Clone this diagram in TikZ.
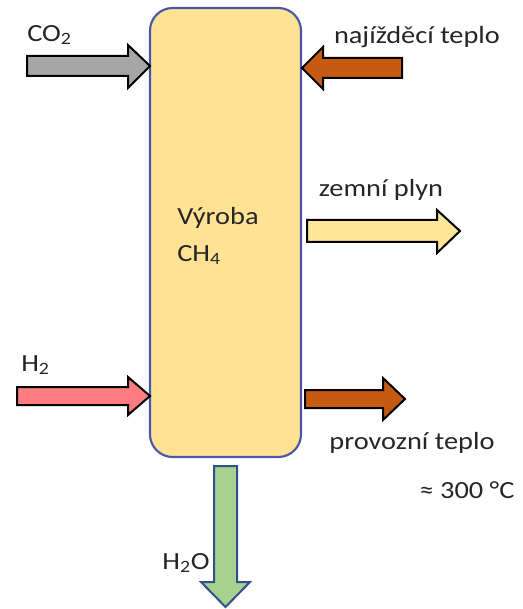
\documentclass[tikz,border=0pt]{standalone}
\usepackage{fontspec}
\setmainfont{Carlito}[FakeStretch=1.15]
\usetikzlibrary{positioning}
\definecolor{BoxFill}{HTML}{FFE294}
\definecolor{BoxLine}{HTML}{4A56A8}
\definecolor{GasGray}{HTML}{A6A6A6}
\definecolor{HeatBrown}{HTML}{C55A11}
\definecolor{GasYellow}{HTML}{FFE699}
\definecolor{HydroRed}{HTML}{FF7C80}
\definecolor{WaterGreen}{HTML}{A9D18E}
\definecolor{WaterLine}{HTML}{2F528F}
\definecolor{TextGray}{HTML}{262626}

\begin{document}
\begin{tikzpicture}[x=0.75pt,y=-0.75pt,
    every node/.style={font=\fontsize{18.5}{21}\selectfont,text=TextGray,inner sep=0pt},
    flow/.style={draw=black,line width=1.5pt,line join=miter},
    reactorbox/.style={draw=BoxLine,fill=BoxFill,line width=1.6pt,rounded corners=17pt,
      minimum width=113.25pt,minimum height=336.75pt}]
  \useasboundingbox (0,0) rectangle (522,609);

  % reactor
  \node[reactorbox] (reactor) at (225.5,232.5) {};
  \node[anchor=west] (vyroba) at (177,218) {Výroba};
  \node[anchor=west] (methan) at (177,255) {CH\textsubscript{4}};

  % inputs on the left
  \draw[flow,fill=GasGray] (27,56) -- (128,56) -- (128,45) -- (150,66)
    -- (128,88) -- (128,76) -- (27,76) -- cycle;
  \node[anchor=west] (co2) at (27,35) {CO\textsubscript{2}};

  \draw[flow,fill=HydroRed] (17,387) -- (128,387) -- (128,377) -- (150,396)
    -- (128,415) -- (128,405) -- (17,405) -- cycle;
  \node[anchor=west] (h2) at (21,365) {H\textsubscript{2}};

  % heat in, top right
  \draw[flow,fill=HeatBrown] (402,58) -- (323,58) -- (323,47) -- (302,68)
    -- (323,89) -- (323,78) -- (402,78) -- cycle;
  \node (startheat) at (417,37) {najížděcí teplo};

  % outputs on the right
  \draw[flow,fill=GasYellow] (307,220) -- (437,220) -- (437,210) -- (460,231)
    -- (437,253) -- (437,242) -- (307,242) -- cycle;
  \node (natgas) at (381,190) {zemní plyn};

  \draw[flow,fill=HeatBrown] (305,390) -- (383,390) -- (383,378) -- (405,399)
    -- (383,420) -- (383,408) -- (305,408) -- cycle;
  \node (workheat) at (412,443) {provozní teplo};
  \node (temp) at (467,490) {≈ 300 °C};

  % water out
  \draw[flow,draw=WaterLine,fill=WaterGreen] (214,466) -- (237,466) -- (237,582)
    -- (250,582) -- (225.5,607) -- (201,582) -- (214,582) -- cycle;
  \node (water) at (186,563) {H\textsubscript{2}O};
\end{tikzpicture}
\end{document}
